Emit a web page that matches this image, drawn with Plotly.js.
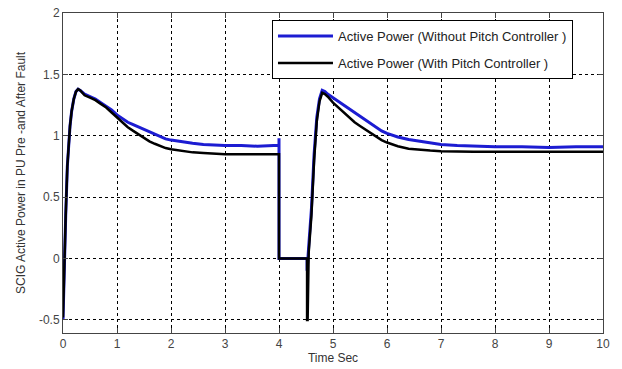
<!DOCTYPE html>
<html>
<head>
<meta charset="utf-8">
<script src="https://cdn.plot.ly/plotly-3.0.1.min.js"></script>
<style>html,body{margin:0;padding:0;background:#fff;}#chart{width:622px;height:369px;}</style>
</head>
<body>
<div id="chart"></div>
<script>
// Time (s) and active power (pu), without pitch controller
const timeWithout = [0, 0.02, 0.05, 0.08, 0.1, 0.13, 0.16, 0.2, 0.24, 0.28, 0.32, 0.4, 0.5, 0.6, 0.7, 0.8, 0.9, 1.0, 1.1, 1.2, 1.3, 1.4, 1.5, 1.6, 1.7, 1.8, 1.9, 2.0, 2.2, 2.4, 2.6, 2.8, 3.0, 3.3, 3.6, 3.9, 4.0, 4.0, 4.0, 4.52, 4.52, 4.55, 4.6, 4.65, 4.7, 4.75, 4.8, 4.85, 4.9, 5.0, 5.1, 5.2, 5.3, 5.4, 5.5, 5.6, 5.7, 5.8, 5.9, 6.0, 6.2, 6.4, 6.6, 6.8, 7.0, 7.3, 7.6, 8.0, 8.5, 9.0, 9.5, 10.0];
const powerWithout = [-0.5, -0.1, 0.35, 0.75, 0.92, 1.08, 1.2, 1.3, 1.36, 1.38, 1.37, 1.34, 1.32, 1.3, 1.27, 1.24, 1.21, 1.17, 1.14, 1.11, 1.09, 1.07, 1.05, 1.03, 1.01, 0.99, 0.975, 0.965, 0.95, 0.94, 0.93, 0.925, 0.92, 0.92, 0.915, 0.92, 0.92, 0.98, 0, 0, -0.1, 0.1, 0.4, 0.85, 1.15, 1.3, 1.37, 1.36, 1.34, 1.31, 1.28, 1.25, 1.22, 1.19, 1.16, 1.13, 1.1, 1.07, 1.04, 1.02, 0.99, 0.97, 0.955, 0.94, 0.93, 0.92, 0.915, 0.91, 0.91, 0.905, 0.91, 0.91];

// Time (s) and active power (pu), with pitch controller
const timeWith = [0, 0.02, 0.05, 0.08, 0.1, 0.13, 0.16, 0.2, 0.24, 0.28, 0.32, 0.4, 0.5, 0.6, 0.7, 0.8, 0.9, 1.0, 1.1, 1.2, 1.3, 1.4, 1.5, 1.6, 1.7, 1.8, 1.9, 2.0, 2.2, 2.4, 2.6, 2.8, 3.0, 3.3, 3.6, 3.9, 4.0, 4.0, 4.52, 4.52, 4.53, 4.55, 4.6, 4.65, 4.7, 4.75, 4.8, 4.85, 4.9, 5.0, 5.1, 5.2, 5.3, 5.4, 5.5, 5.6, 5.7, 5.8, 5.9, 6.0, 6.2, 6.4, 6.6, 6.8, 7.0, 7.3, 7.6, 8.0, 8.5, 9.0, 9.5, 10.0];
const powerWith = [-0.48, -0.1, 0.35, 0.75, 0.92, 1.08, 1.2, 1.3, 1.36, 1.38, 1.37, 1.33, 1.31, 1.29, 1.26, 1.23, 1.19, 1.15, 1.11, 1.07, 1.04, 1.01, 0.98, 0.955, 0.935, 0.915, 0.9, 0.89, 0.875, 0.865, 0.86, 0.855, 0.85, 0.85, 0.85, 0.85, 0.85, 0, 0, -0.5, -0.5, 0.05, 0.35, 0.8, 1.12, 1.28, 1.35, 1.34, 1.32, 1.27, 1.23, 1.19, 1.15, 1.11, 1.08, 1.05, 1.02, 0.99, 0.965, 0.945, 0.915, 0.895, 0.885, 0.88, 0.875, 0.87, 0.87, 0.87, 0.87, 0.87, 0.87, 0.87];

const seriesNames = ["Active Power (Without Pitch Controller )", "Active Power (With Pitch Controller )"];
const xTicks = [0, 1, 2, 3, 4, 5, 6, 7, 8, 9, 10];
const yTicks = [-0.5, 0, 0.5, 1, 1.5, 2];
const yTickText = ["-0.5", "0", "0.5", "1", "1.5", "2"];

const traces = [
  {x: timeWithout, y: powerWithout, name: seriesNames[0], legendgroup: "a", type: "scatter", mode: "lines",
   line: {color: "#1c1cd2", width: 3}},
  {x: timeWith, y: powerWith, name: seriesNames[1], legendgroup: "b", type: "scatter", mode: "lines",
   line: {color: "#000000", width: 2.5}}
];

const axisCommon = {
  showline: true, linecolor: "#444", linewidth: 1, mirror: "ticks",
  ticks: "inside", ticklen: 5, tickcolor: "#444",
  showgrid: true, gridcolor: "#000", griddash: "dot", gridwidth: 1,
  zeroline: false, tickfont: {family: "Liberation Sans, Arial", size: 12, color: "#444"}
};

const layout = {
  width: 622, height: 369,
  margin: {l: 63, r: 19, t: 13, b: 36},
  paper_bgcolor: "#fff", plot_bgcolor: "#fff",
  showlegend: true,
  legend: {x: 0.387, y: 0.978, xanchor: "left", yanchor: "top",
           bgcolor: "#fff", bordercolor: "#000", borderwidth: 1,
           font: {family: "Liberation Sans, Arial", size: 13, color: "#222"},
           traceorder: "grouped", tracegroupgap: 7, itemwidth: 55},
  xaxis: Object.assign({}, axisCommon, {range: [0, 10], tickvals: xTicks,
    title: {text: "Time Sec", standoff: 0, font: {family: "Liberation Sans, Arial", size: 12, color: "#333"}}}),
  yaxis: Object.assign({}, axisCommon, {range: [-0.606, 2], tickvals: yTicks, ticktext: yTickText,
    title: {text: "SCIG Active Power in PU Pre -and After Fault", standoff: 10, font: {family: "Liberation Sans, Arial", size: 12, color: "#333"}}})
};

Plotly.newPlot("chart", traces, layout, {displayModeBar: false, staticPlot: true});
</script>
</body>
</html>
